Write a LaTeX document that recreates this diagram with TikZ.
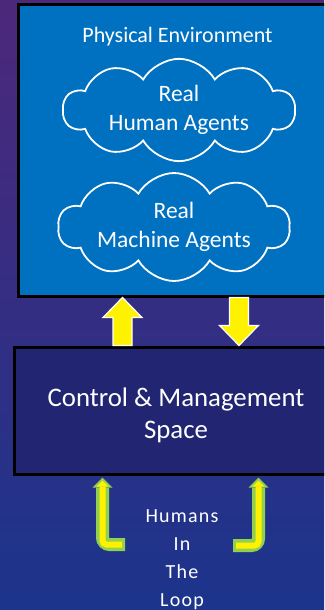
\documentclass[tikz,border=0pt]{standalone}
\usepackage{xcolor}
\usepackage{fontspec}
\setmainfont{Carlito}
\usetikzlibrary{positioning, shapes.symbols, arrows.meta}

\definecolor{bgtop}{RGB}{76,40,122}
\definecolor{bgmid}{RGB}{46,38,124}
\definecolor{bgbot}{RGB}{28,52,140}
\definecolor{envblue}{RGB}{0,112,192}
\definecolor{ctrlnavy}{RGB}{34,38,114}
\definecolor{loopgreen}{RGB}{146,208,80}

\tikzset{
  box/.style={draw=black, line width=3pt, inner sep=0pt},
  boxlabel/.style={text=white, align=center, anchor=base, inner sep=0pt},
  agent/.style={cloud, cloud puffs=10, cloud puff arc=120, cloud ignores aspect, draw=white, line width=1.8pt, text=white, align=center, inner sep=0pt, font=\fontsize{23.5}{29.5}\selectfont},
  blockarrow/.style={fill=yellow, draw=white, line width=1.2pt, line join=miter},
  loopouter/.style={draw=loopgreen, line width=13pt, rounded corners=7pt, shorten >=2pt, -{Triangle[length=10pt,width=20pt,line width=0pt]}},
  loopinner/.style={draw=yellow, line width=6pt, rounded corners=4pt, shorten <=3pt, shorten >=5pt, -{Triangle[length=6pt,width=12pt,line width=0pt]}}
}

\begin{document}
\begin{tikzpicture}[x=1pt, y=-1pt]
		\useasboundingbox (0,0) rectangle (324,610);
		\clip (0,0) rectangle (324,610);
		\shade[top color=bgtop, middle color=bgmid, bottom color=bgbot] (0,0) rectangle (324,610);
		
		% Boxes
		\node (env) [box, fill=envblue, minimum width=321.5pt, minimum height=291.5pt] at (179.25,150.25) {};
		\node (ctrl) [box, fill=ctrlnavy, minimum width=325.3pt, minimum height=127pt] at (177.3,410.5) {};
		
		% Labels (base is the last line)
		\node (envlabel) [boxlabel, font=\fontsize{22}{26}\selectfont] at (177.5,43) {Physical Environment};
		\node (ctrllabel) [boxlabel, font=\fontsize{26.8}{32}\selectfont] at (176,438) {Control \& Management\\Space};
		\node (loop) [boxlabel, font=\fontsize{20}{28}\selectfont\addfontfeature{LetterSpace=6}] at (182,606.5) {Humans\\In\\The\\Loop};
		
		% Agents
		\node (human) [agent, minimum width=232pt, minimum height=98pt] at (179,110) {Real\\Human Agents};
		\node (machine) [agent, minimum width=232pt, minimum height=108pt] at (174,227) {Real\\Machine Agents};
		
		% Edges
		\coordinate (upx) at (122.5,0);
		\coordinate (downx) at (239,0);
		\draw[blockarrow] (ctrl.north -| upx) -- ++(-9.5,0) -- ++(0,-28) -- ++(-10,0) -- (env.south -| upx) -- ++(19.5,20) -- ++(-10,0) -- ++(0,28) -- cycle;
		\draw[blockarrow] (env.south -| downx) -- ++(-9.5,0) -- ++(0,28) -- ++(-10,0) -- (ctrl.north -| downx) -- ++(19.5,-20) -- ++(-10,0) -- ++(0,-28) -- cycle;
		
		% Loop edges
		\coordinate (lstart) at (125,544.5);
		\coordinate (lx) at (102.5,0);
		\coordinate (rstart) at (233,545.5);
		\coordinate (rx) at (258.5,0);
		\draw[loopouter] (lstart) -| (ctrl.south -| lx);
		\draw[loopinner] (lstart) -| (ctrl.south -| lx);
		\draw[loopouter] (rstart) -| (ctrl.south -| rx);
		\draw[loopinner] (rstart) -| (ctrl.south -| rx);
	\end{tikzpicture}
\end{document}
